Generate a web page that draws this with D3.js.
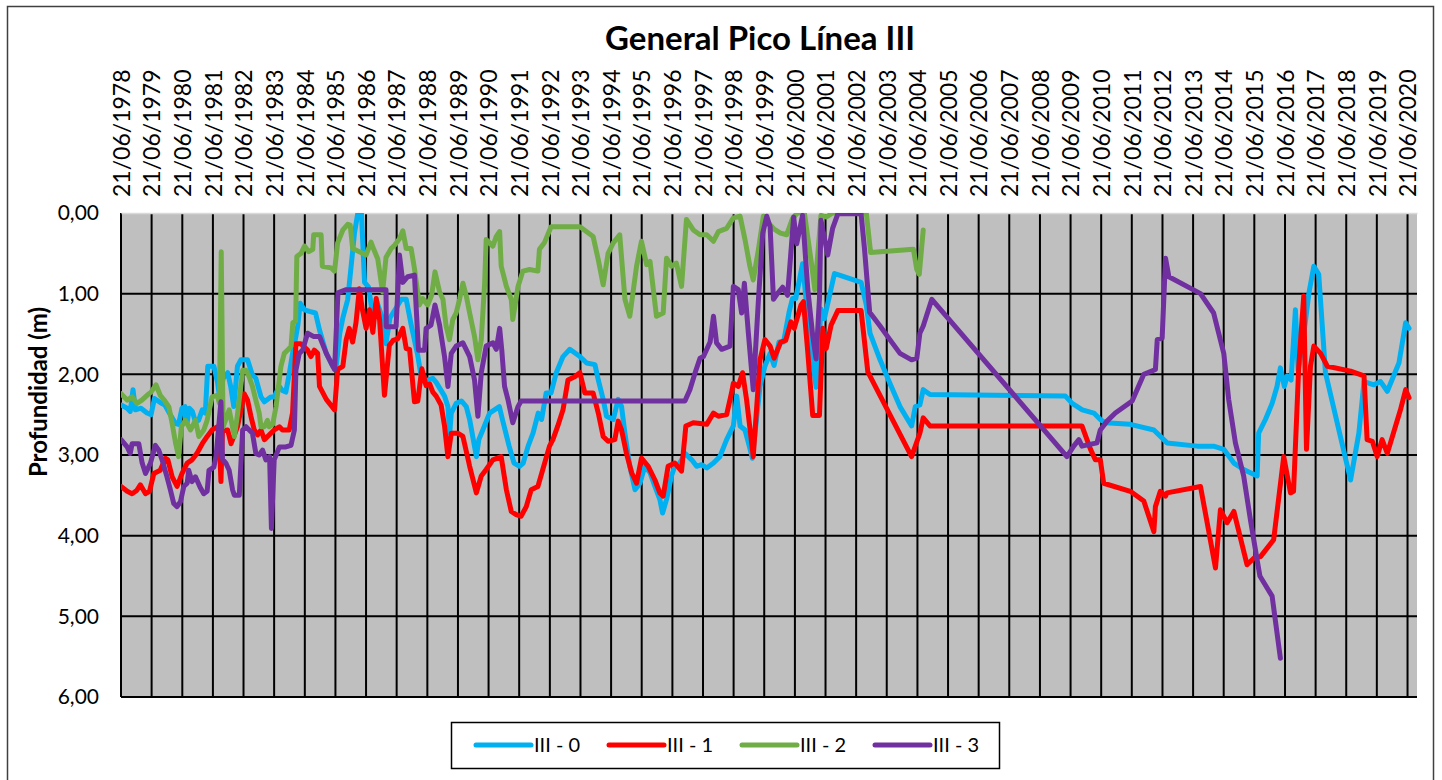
<head>
    <meta charset="utf-8">
    <style> body { margin: 0; background: #fff; } </style>
    <script src="https://d3js.org/d3.v7.min.js"></script>
</head>
<body>
<div id="chart"></div>
<script>

// date labels along the top axis
var xTickLabels = ["21/06/1978","21/06/1979","21/06/1980","21/06/1981","21/06/1982","21/06/1983",
    "21/06/1984","21/06/1985","21/06/1986","21/06/1987","21/06/1988","21/06/1989","21/06/1990",
    "21/06/1991","21/06/1992","21/06/1993","21/06/1994","21/06/1995","21/06/1996","21/06/1997",
    "21/06/1998","21/06/1999","21/06/2000","21/06/2001","21/06/2002","21/06/2003","21/06/2004",
    "21/06/2005","21/06/2006","21/06/2007","21/06/2008","21/06/2009","21/06/2010","21/06/2011",
    "21/06/2012","21/06/2013","21/06/2014","21/06/2015","21/06/2016","21/06/2017","21/06/2018",
    "21/06/2019","21/06/2020"];
var yTickValues = [0, 1, 2, 3, 4, 5, 6];
var yTickLabels = ["0,00","1,00","2,00","3,00","4,00","5,00","6,00"];
var seriesNames = ["III - 0", "III - 1", "III - 2", "III - 3"];

// [decimal year, depth in m]
var s0 = [[1978.47,2.38],[1978.67,2.42],[1978.77,2.46],[1978.86,2.19],[1978.94,2.44],[1979.12,2.42],
    [1979.32,2.48],[1979.45,2.50],[1979.56,2.30],[1979.75,2.35],[1979.9,2.38],[1980.08,2.50],[1980.25,2.61],
    [1980.35,2.62],[1980.46,2.42],[1980.56,2.40],[1980.63,2.60],[1980.70,2.42],[1980.80,2.46],[1980.90,2.59],
    [1981.00,2.57],[1981.12,2.44],[1981.22,2.48],[1981.30,1.90],[1981.50,1.90],[1981.62,2.10],[1981.70,2.32],
    [1981.80,2.05],[1981.95,1.98],[1982.05,2.15],[1982.15,2.40],[1982.27,1.90],[1982.38,1.82],[1982.60,1.82],
    [1982.75,2.00],[1982.87,2.05],[1983.04,2.28],[1983.15,2.34],[1983.36,2.28],[1983.47,2.28],[1983.64,2.15],
    [1983.74,2.20],[1983.85,2.22],[1983.96,2.00],[1984.07,1.74],[1984.17,1.55],[1984.24,1.40],[1984.32,1.12],
    [1984.46,1.20],[1984.62,1.22],[1984.82,1.24],[1984.95,1.45],[1985.17,1.74],[1985.38,1.90],[1985.50,1.88],
    [1985.61,1.49],[1985.71,1.30],[1985.87,1.07],[1985.98,0.66],[1986.09,0.25],[1986.20,0.0],[1986.30,-0.15],
    [1986.42,0.86],[1986.55,0.92],[1986.68,1.25],[1986.82,1.10],[1987.0,1.30],[1987.12,1.62],[1987.25,1.30],
    [1987.45,1.18],[1987.62,1.07],[1987.78,1.07],[1987.95,1.40],[1988.15,1.75],[1988.25,1.98],[1988.38,2.10],
    [1988.5,2.07],[1988.65,2.05],[1988.76,2.10],[1989.03,2.27],[1989.14,2.40],[1989.20,2.73],[1989.25,2.48],
    [1989.41,2.36],[1989.58,2.33],[1989.74,2.40],[1989.85,2.56],[1990.07,3.02],[1990.15,2.81],[1990.28,2.69],
    [1990.50,2.48],[1990.66,2.44],[1990.82,2.40],[1990.92,2.56],[1991.14,2.89],[1991.30,3.10],[1991.48,3.14],
    [1991.60,3.10],[1991.76,2.89],[1991.92,2.73],[1992.09,2.48],[1992.20,2.56],[1992.35,2.23],[1992.51,2.23],
    [1992.68,1.98],[1992.90,1.78],[1993.12,1.69],[1993.45,1.78],[1993.67,1.86],[1993.94,1.88],[1994.05,2.07],
    [1994.21,2.31],[1994.32,2.52],[1994.54,2.56],[1994.70,2.31],[1994.81,2.40],[1994.92,2.73],[1995.08,3.14],
    [1995.25,3.43],[1995.41,3.35],[1995.57,3.14],[1995.74,3.22],[1995.90,3.39],[1996.06,3.55],[1996.15,3.72],
    [1996.28,3.55],[1996.44,3.26],[1996.55,3.14],[1996.71,3.10],[1996.88,2.98],[1997.10,3.06],[1997.26,3.14],
    [1997.42,3.12],[1997.59,3.16],[1997.81,3.10],[1998.02,3.02],[1998.24,2.81],[1998.46,2.64],[1998.57,2.27],
    [1998.68,2.64],[1998.84,2.69],[1998.98,2.89],[1999.08,3.04],[1999.33,2.15],[1999.49,1.90],[1999.66,1.74],
    [1999.79,1.89],[1999.95,1.60],[2000.10,1.60],[2000.28,1.23],[2000.39,1.06],[2000.50,1.06],[2000.72,0.63],
    [2000.94,1.48],[2001.16,2.16],[2001.32,1.19],[2001.43,1.31],[2001.76,0.75],[2001.92,0.77],[2002.63,0.86],
    [2002.80,1.14],[2002.92,1.49],[2003.25,1.82],[2003.57,2.11],[2003.90,2.40],[2004.28,2.64],[2004.40,2.40],
    [2004.55,2.38],[2004.66,2.19],[2004.88,2.25],[2009.30,2.27],[2009.52,2.36],[2009.85,2.44],[2010.23,2.48],
    [2010.44,2.56],[2010.61,2.60],[2011.42,2.62],[2012.19,2.69],[2012.62,2.85],[2013.60,2.89],[2014.14,2.89],
    [2014.47,2.93],[2014.80,3.10],[2015.12,3.18],[2015.56,3.26],[2015.61,2.73],[2015.83,2.56],[2016.05,2.36],
    [2016.21,2.15],[2016.32,1.92],[2016.45,2.15],[2016.54,2.02],[2016.67,2.07],[2016.81,1.20],[2016.90,1.95],
    [2017.05,1.60],[2017.25,0.99],[2017.41,0.66],[2017.57,0.76],[2017.79,1.98],[2018.61,3.31],[2018.88,2.73],
    [2019.05,2.09],[2019.37,2.13],[2019.59,2.09],[2019.81,2.21],[2020.19,1.86],[2020.41,1.36],[2020.52,1.43]];

var s1 = [[1978.47,3.39],[1978.67,3.45],[1978.83,3.48],[1978.98,3.44],[1979.10,3.37],[1979.27,3.48],
    [1979.40,3.45],[1979.54,3.23],[1979.75,3.19],[1979.92,3.04],[1980.0,3.06],[1980.14,3.27],[1980.30,3.39],
    [1980.46,3.23],[1980.63,3.10],[1980.79,3.06],[1980.95,2.98],[1981.12,2.86],[1981.28,2.77],[1981.44,2.69],
    [1981.61,2.65],[1981.67,2.73],[1981.73,3.33],[1981.78,2.70],[1981.95,2.69],[1982.06,2.86],[1982.27,2.65],
    [1982.49,2.24],[1982.60,2.32],[1982.71,2.52],[1982.82,2.69],[1982.93,2.75],[1983.04,2.69],[1983.15,2.81],
    [1983.36,2.73],[1983.47,2.69],[1983.64,2.65],[1983.74,2.69],[1983.96,2.69],[1984.07,2.48],[1984.18,1.62],
    [1984.34,1.62],[1984.56,1.70],[1984.67,1.78],[1984.78,1.70],[1984.89,1.74],[1984.95,2.15],[1985.17,2.31],
    [1985.44,2.44],[1985.54,1.94],[1985.71,1.90],[1985.82,1.57],[1985.92,1.43],[1986.03,1.60],[1986.14,1.36],
    [1986.25,0.94],[1986.35,1.20],[1986.47,1.43],[1986.58,1.20],[1986.69,1.48],[1986.80,1.06],[1986.91,1.32],
    [1987.07,2.26],[1987.23,1.64],[1987.35,1.58],[1987.50,1.56],[1987.67,1.43],[1987.78,1.68],[1987.89,1.69],
    [1988.05,2.34],[1988.16,2.33],[1988.29,1.93],[1988.43,2.14],[1988.55,2.12],[1988.65,2.22],[1988.76,2.27],
    [1988.92,2.38],[1989.03,2.64],[1989.14,3.02],[1989.25,2.73],[1989.47,2.73],[1989.63,2.77],[1989.85,3.14],
    [1990.07,3.47],[1990.23,3.26],[1990.39,3.18],[1990.61,3.06],[1990.88,3.02],[1991.05,3.43],[1991.21,3.70],
    [1991.37,3.74],[1991.53,3.76],[1991.70,3.64],[1991.86,3.43],[1992.08,3.39],[1992.24,3.18],[1992.46,2.89],
    [1992.57,2.81],[1992.73,2.64],[1992.90,2.44],[1993.06,2.07],[1993.28,2.03],[1993.45,1.98],[1993.61,2.23],
    [1993.88,2.23],[1994.05,2.48],[1994.21,2.77],[1994.37,2.83],[1994.59,2.81],[1994.70,2.58],[1994.81,2.69],
    [1994.97,2.98],[1995.14,3.22],[1995.30,3.35],[1995.46,3.04],[1995.68,3.14],[1995.90,3.31],[1996.06,3.47],
    [1996.17,3.51],[1996.33,3.14],[1996.55,3.10],[1996.77,3.20],[1996.91,2.64],[1997.15,2.60],[1997.59,2.62],
    [1997.81,2.48],[1997.97,2.52],[1998.24,2.50],[1998.40,2.23],[1998.46,2.11],[1998.62,2.15],[1998.76,1.98],
    [1998.89,2.31],[1999.11,3.02],[1999.33,1.82],[1999.49,1.57],[1999.66,1.65],[1999.79,1.80],[2000.01,1.60],
    [2000.17,1.58],[2000.34,1.35],[2000.45,1.43],[2000.67,1.14],[2000.75,1.10],[2000.89,1.72],[2001.05,2.51],
    [2001.27,2.51],[2001.38,1.43],[2001.49,1.68],[2001.65,1.39],[2001.87,1.21],[2002.63,1.21],[2002.85,1.97],
    [2004.28,3.02],[2004.55,2.73],[2004.66,2.54],[2004.88,2.64],[2009.84,2.64],[2010.12,2.93],[2010.28,3.06],
    [2010.44,3.06],[2010.55,3.35],[2011.42,3.45],[2011.86,3.57],[2012.19,3.95],[2012.24,3.64],[2012.40,3.45],
    [2012.57,3.51],[2012.62,3.47],[2013.71,3.39],[2014.20,4.40],[2014.36,3.68],[2014.58,3.84],[2014.80,3.70],
    [2015.23,4.36],[2015.45,4.28],[2015.67,4.26],[2016.10,4.05],[2016.43,3.02],[2016.65,3.47],[2016.75,3.45],
    [2016.92,1.90],[2017.08,1.03],[2017.17,2.93],[2017.30,1.90],[2017.41,1.65],[2017.63,1.74],[2017.85,1.90],
    [2018.61,1.96],[2019.05,2.02],[2019.15,2.81],[2019.32,2.83],[2019.48,3.02],[2019.64,2.81],[2019.81,2.98],
    [2020.08,2.64],[2020.24,2.44],[2020.41,2.19],[2020.52,2.29]];

var s2 = [[1978.47,2.24],[1978.67,2.32],[1978.83,2.28],[1978.99,2.36],[1979.15,2.32],[1979.32,2.26],
    [1979.45,2.22],[1979.61,2.13],[1979.75,2.26],[1979.90,2.33],[1980.03,2.40],[1980.14,2.61],[1980.25,2.85],
    [1980.35,3.02],[1980.44,2.65],[1980.57,2.57],[1980.74,2.69],[1980.90,2.57],[1981.01,2.77],[1981.17,2.69],
    [1981.28,2.57],[1981.44,2.28],[1981.61,2.26],[1981.68,2.36],[1981.74,0.48],[1981.80,2.65],[1981.90,2.55],
    [1982.0,2.44],[1982.17,2.77],[1982.27,2.50],[1982.44,1.95],[1982.55,1.95],[1982.65,2.03],[1982.76,2.15],
    [1982.87,2.32],[1982.98,2.48],[1983.04,2.65],[1983.15,2.65],[1983.25,2.57],[1983.31,2.65],[1983.42,2.62],
    [1983.53,2.40],[1983.69,1.90],[1983.80,1.74],[1983.96,1.68],[1984.02,1.65],[1984.08,1.36],[1984.17,1.34],
    [1984.21,0.54],[1984.35,0.50],[1984.46,0.41],[1984.60,0.48],[1984.73,0.45],[1984.76,0.27],[1985.0,0.27],
    [1985.04,0.66],[1985.33,0.68],[1985.44,0.72],[1985.54,0.37],[1985.71,0.21],[1985.87,0.14],[1985.95,0.15],
    [1986.03,0.44],[1986.25,0.48],[1986.47,0.52],[1986.63,0.36],[1986.72,0.45],[1986.85,0.57],[1987.01,0.98],
    [1987.12,0.55],[1987.29,0.44],[1987.40,0.40],[1987.56,0.32],[1987.67,0.22],[1987.78,0.44],[1987.94,0.44],
    [1988.05,0.69],[1988.21,1.14],[1988.32,1.06],[1988.48,1.14],[1988.61,1.02],[1988.72,0.73],[1988.87,0.98],
    [1988.98,1.07],[1989.08,1.40],[1989.19,1.57],[1989.30,1.32],[1989.41,1.24],[1989.52,1.07],[1989.63,0.87],
    [1989.74,1.03],[1989.85,1.24],[1990.01,1.53],[1990.12,1.82],[1990.23,1.57],[1990.34,0.87],[1990.39,0.33],
    [1990.61,0.41],[1990.72,0.29],[1990.83,0.23],[1990.88,0.66],[1991.05,0.91],[1991.21,1.07],[1991.26,1.32],
    [1991.43,0.91],[1991.59,0.72],[1991.81,0.70],[1992.08,0.72],[1992.13,0.45],[1992.29,0.37],[1992.51,0.17],
    [1993.45,0.17],[1993.88,0.29],[1994.05,0.58],[1994.21,0.89],[1994.37,0.50],[1994.54,0.37],[1994.75,0.27],
    [1994.92,1.07],[1995.08,1.28],[1995.30,0.66],[1995.46,0.35],[1995.63,0.64],[1995.74,0.60],[1995.95,1.28],
    [1996.17,1.24],[1996.28,0.56],[1996.44,0.66],[1996.60,0.62],[1996.77,0.91],[1996.93,0.08],[1997.15,0.21],
    [1997.37,0.27],[1997.59,0.27],[1997.81,0.35],[1997.97,0.23],[1998.24,0.19],[1998.46,0.06],[1998.68,0.04],
    [1998.84,0.33],[1999.0,0.66],[1999.11,0.83],[1999.28,0.45],[1999.44,0.04],[1999.60,0.12],[1999.79,0.20],
    [2000.0,0.25],[2000.2,0.27],[2000.39,0.07],[2000.55,0.0],[2000.78,0.0],[2001.00,0.60],[2001.12,0.95],
    [2001.32,0.03],[2001.5,0.05],[2001.7,0.0],[2002.8,0.0],[2002.94,0.49],[2004.34,0.45],[2004.45,0.70],
    [2004.53,0.76],[2004.66,0.21]];

var s3 = [[1978.47,2.81],[1978.67,2.90],[1978.77,2.98],[1978.83,2.86],[1979.05,2.86],[1979.16,3.10],
    [1979.27,3.23],[1979.43,3.10],[1979.59,2.88],[1979.70,2.94],[1979.81,3.06],[1979.97,3.27],[1980.08,3.43],
    [1980.19,3.60],[1980.30,3.64],[1980.41,3.58],[1980.52,3.39],[1980.63,3.35],[1980.68,3.19],[1980.79,3.33],
    [1980.90,3.27],[1981.05,3.40],[1981.17,3.48],[1981.28,3.45],[1981.34,3.19],[1981.50,3.15],[1981.57,3.02],
    [1981.73,2.34],[1981.78,3.05],[1981.89,3.10],[1982.0,3.19],[1982.11,3.43],[1982.17,3.50],[1982.33,3.50],
    [1982.44,2.69],[1982.55,2.65],[1982.76,2.73],[1982.87,2.98],[1982.98,3.00],[1983.09,2.94],[1983.20,3.06],
    [1983.32,3.02],[1983.38,3.91],[1983.47,3.06],[1983.64,2.90],[1983.85,2.90],[1984.02,2.88],[1984.13,2.69],
    [1984.18,1.95],[1984.29,1.74],[1984.40,1.70],[1984.56,1.49],[1984.75,1.53],[1984.95,1.53],[1985.17,1.74],
    [1985.44,1.94],[1985.55,0.99],[1985.82,0.95],[1987.12,0.95],[1987.13,1.41],[1987.45,1.41],[1987.56,0.52],
    [1987.67,0.86],[1987.83,0.79],[1988.05,0.77],[1988.18,1.70],[1988.38,1.70],[1988.43,1.43],[1988.59,1.39],
    [1988.72,1.14],[1988.87,1.39],[1989.03,1.78],[1989.14,2.15],[1989.25,1.74],[1989.41,1.65],[1989.63,1.61],
    [1989.85,1.78],[1990.01,2.07],[1990.12,2.52],[1990.23,1.98],[1990.39,1.65],[1990.61,1.61],[1990.72,1.69],
    [1990.83,1.43],[1990.90,1.70],[1990.99,2.15],[1991.10,2.31],[1991.26,2.60],[1991.43,2.40],[1991.53,2.33],
    [1996.88,2.33],[1997.04,2.19],[1997.21,1.98],[1997.37,1.80],[1997.48,1.78],[1997.70,1.60],[1997.81,1.28],
    [1997.91,1.61],[1998.08,1.69],[1998.35,1.65],[1998.46,0.91],[1998.62,0.95],[1998.73,1.24],[1998.82,0.87],
    [1998.95,1.49],[1999.11,2.19],[1999.28,1.07],[1999.42,0.25],[1999.55,0.04],[1999.66,0.17],[1999.77,1.07],
    [1999.90,1.00],[2000.07,0.92],[2000.23,1.02],[2000.43,0.05],[2000.53,0.38],[2000.72,0.03],[2000.89,0.94],
    [2001.05,1.52],[2001.16,1.81],[2001.27,1.06],[2001.32,0.09],[2001.54,0.52],[2001.70,0.19],[2001.87,0.01],
    [2002.63,0.01],[2002.74,0.44],[2002.91,1.23],[2003.25,1.40],[2003.57,1.57],[2003.90,1.74],[2004.28,1.82],
    [2004.45,1.80],[2004.55,1.49],[2004.66,1.40],[2004.94,1.07],[2009.35,3.02],[2009.57,2.89],[2009.74,2.81],
    [2009.84,2.89],[2010.33,2.85],[2010.44,2.69],[2010.66,2.58],[2010.93,2.48],[2011.48,2.33],[2011.86,2.00],
    [2012.24,1.94],[2012.30,1.57],[2012.46,1.55],[2012.57,0.56],[2012.68,0.79],[2013.71,1.00],[2014.14,1.24],
    [2014.47,1.74],[2014.63,2.31],[2014.85,2.85],[2015.12,3.26],[2015.34,3.80],[2015.56,4.30],[2015.65,4.50],
    [2016.05,4.75],[2016.32,5.52]];

var colors = ["#00B0F0", "#FF0000", "#70AD47", "#7030A0"];
var series = [s0, s1, s2, s3];

var W = 1442, H = 780;
var plot = { left: 121, right: 1417, top: 213, bottom: 697 };

var parseTick = d3.utcParse("%d/%m/%Y");
function yearToDate(v) {
    var yr = Math.floor(v);
    return new Date(Date.UTC(yr, 0, 1) + (v - yr) * 365.25 * 864e5);
}

var svg = d3.select("#chart").append("svg")
    .attr("width", W)
    .attr("height", H)
    .style("font-family", "Lato, 'Open Sans', sans-serif");

// outer chart border
svg.append("rect")
    .attr("x", 7.5).attr("y", 6.5)
    .attr("width", 1426).attr("height", 800)
    .attr("fill", "#fff")
    .attr("stroke", "#404040")
    .attr("stroke-width", 1.5);

var x = d3.scaleUtc()
    .domain([parseTick(xTickLabels[0]), yearToDate(2020.78)])
    .range([plot.left, plot.right]);

var y = d3.scaleLinear()
    .domain([0, 6])
    .range([plot.top, plot.bottom]);

svg.append("rect")
    .attr("x", plot.left).attr("y", plot.top)
    .attr("width", plot.right - plot.left)
    .attr("height", plot.bottom - plot.top)
    .attr("fill", "#BFBFBF");

// grid
var grid = svg.append("g");
grid.selectAll(".v").data(xTickLabels).enter().append("line")
    .attr("x1", d => x(parseTick(d))).attr("x2", d => x(parseTick(d)))
    .attr("y1", plot.top).attr("y2", plot.bottom)
    .attr("stroke", "#000").attr("stroke-width", 2);
grid.selectAll(".h").data(yTickValues.slice(1)).enter().append("line")
    .attr("x1", plot.left).attr("x2", plot.right)
    .attr("y1", d => y(d)).attr("y2", d => y(d))
    .attr("stroke", "#000").attr("stroke-width", 2);

// top axis with rotated dates
var xAxis = svg.append("g")
    .attr("transform", "translate(0," + plot.top + ")")
    .call(d3.axisTop(x)
        .tickValues(xTickLabels.map(parseTick))
        .tickFormat((d, i) => xTickLabels[i])
        .tickSize(0));
xAxis.select(".domain").attr("stroke", "#D9D9D9").attr("stroke-width", 1.5);
xAxis.selectAll("text")
    .attr("transform", "rotate(-90)")
    .attr("x", 16).attr("y", 0).attr("dy", "0.36em")
    .attr("text-anchor", "start")
    .attr("fill", "#000")
    .style("font-size", "23px")
    .style("font-family", "Lato, sans-serif");

var yAxis = svg.append("g")
    .attr("transform", "translate(" + plot.left + ",0)")
    .call(d3.axisLeft(y)
        .tickValues(yTickValues)
        .tickFormat((d, i) => yTickLabels[i])
        .tickSize(0)
        .tickPadding(22));
yAxis.select(".domain").remove();
yAxis.selectAll("text")
    .attr("fill", "#000")
    .style("font-size", "21px")
    .style("font-family", "Lato, sans-serif");

// lines
svg.append("clipPath").attr("id", "clip")
    .append("rect")
    .attr("x", plot.left).attr("y", plot.top)
    .attr("width", plot.right - plot.left)
    .attr("height", plot.bottom - plot.top);

var line = d3.line()
    .x(d => x(yearToDate(d[0])))
    .y(d => y(d[1]));

svg.append("g").attr("clip-path", "url(#clip)")
    .selectAll("path").data(series).enter().append("path")
    .attr("d", line)
    .attr("fill", "none")
    .attr("stroke", (d, i) => colors[i])
    .attr("stroke-width", 5)
    .attr("stroke-linejoin", "round")
    .attr("stroke-linecap", "round");

// titles
svg.append("text")
    .attr("x", 760).attr("y", 50)
    .attr("text-anchor", "middle")
    .style("font-size", "33px")
    .style("font-weight", "bold")
    .text("General Pico Línea III");

svg.append("text")
    .attr("transform", "translate(47,392) rotate(-90)")
    .attr("text-anchor", "middle")
    .style("font-size", "24px")
    .style("font-weight", "bold")
    .text("Profundidad (m)");

// legend
var legend = svg.append("g");
legend.append("rect")
    .attr("x", 451.5).attr("y", 722.5)
    .attr("width", 548).attr("height", 46)
    .attr("fill", "#fff")
    .attr("stroke", "#000")
    .attr("stroke-width", 1.5);
var item = legend.selectAll(".item").data(seriesNames).enter().append("g")
    .attr("transform", (d, i) => "translate(" + (476 + i * 133) + ",745)");
item.append("line")
    .attr("x1", 0).attr("x2", 55)
    .attr("stroke", (d, i) => colors[i])
    .attr("stroke-width", 5)
    .attr("stroke-linecap", "round");
item.append("text")
    .attr("x", 58).attr("dy", "0.35em")
    .style("font-size", "20px")
    .text(d => d);

</script>
</body>
